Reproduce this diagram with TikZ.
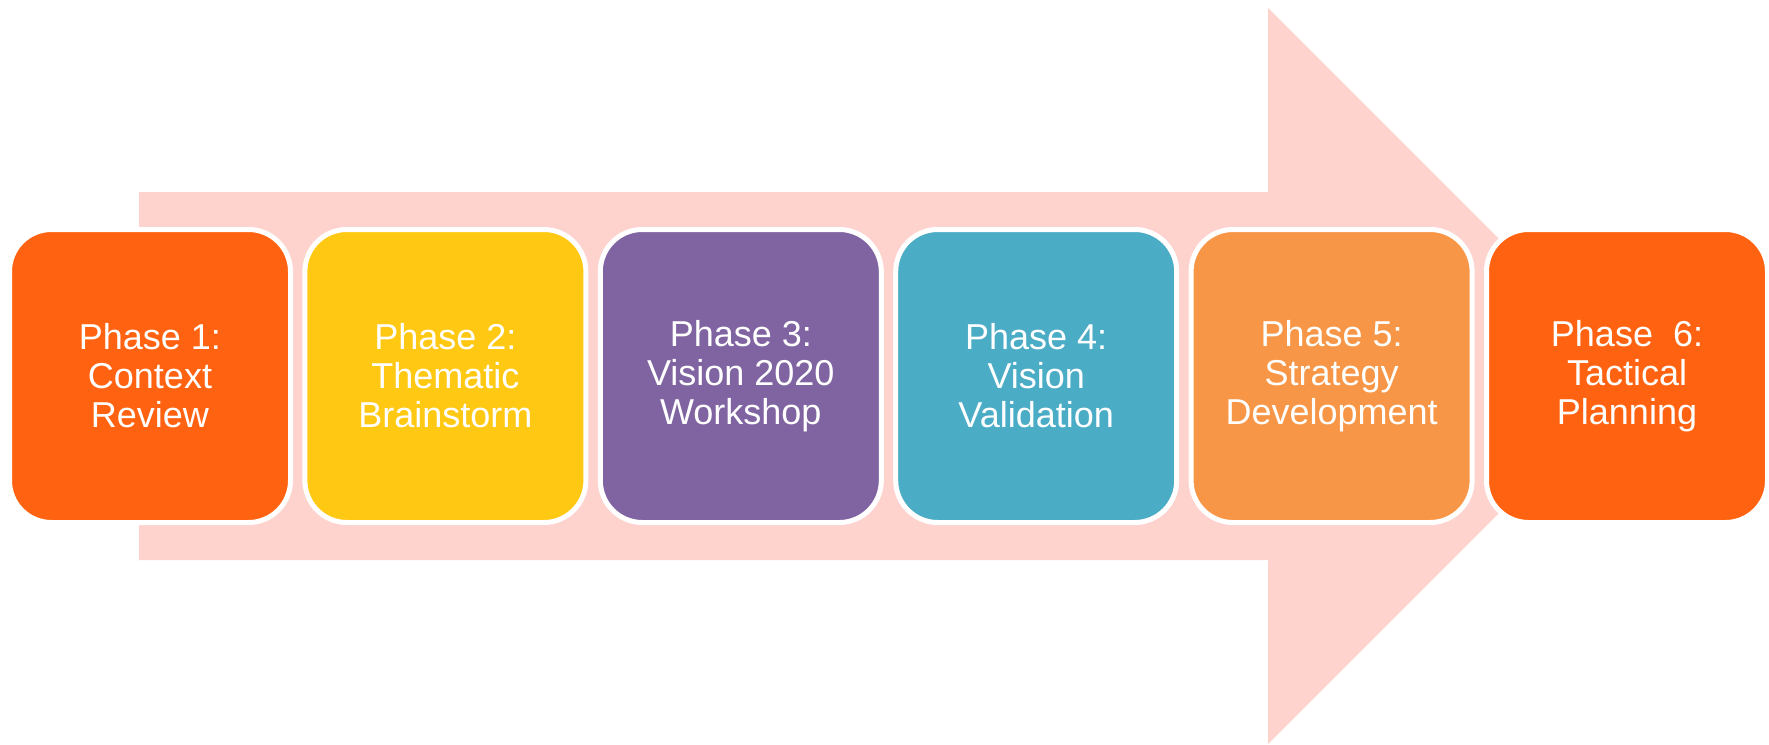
\documentclass[tikz,border=0pt]{standalone}
\usepackage{fontspec}
\setmainfont{Liberation Sans}
\usetikzlibrary{positioning}

\definecolor{arrowpink}{RGB}{255,211,205}
\definecolor{phaseorange}{RGB}{255,99,17}
\definecolor{phaseyellow}{RGB}{255,200,18}
\definecolor{phasepurple}{RGB}{128,100,162}
\definecolor{phaseaqua}{RGB}{75,172,198}
\definecolor{phaselight}{RGB}{247,150,70}

\tikzset{phase/.style = {draw = white, line width = 5pt, fill = #1,
                         rounded corners = 42pt,
                         minimum width = 281pt, minimum height = 293pt,
                         text = white, align = center,
                         font = \fontsize{36}{39}\selectfont
                        },
         phase/.default=phaseorange
        }

\begin{document}
\begin{tikzpicture}[x=1pt, y=-1pt, node distance=9.4pt]
  \useasboundingbox (0,0) rectangle (1769,744);
  % big arrow behind the phases
  \fill[arrowpink] (139,192) -- (1268,192) -- (1268,8) -- (1636,376)
                   -- (1268,744) -- (1268,560) -- (139,560) -- cycle;
  \node[phase=phaseorange] (ph1) at (150,376) {Phase 1:\\Context\\Review};
  \node[phase=phaseyellow, right=of ph1] (ph2) {Phase 2:\\Thematic\\Brainstorm};
  \node[phase=phasepurple, right=of ph2] (ph3) {Phase 3:\\Vision 2020\\Workshop};
  \node[phase=phaseaqua,   right=of ph3] (ph4) {Phase 4:\\Vision\\Validation};
  \node[phase=phaselight,  right=of ph4] (ph5) {Phase 5:\\Strategy\\Development};
  \node[phase=phaseorange, right=of ph5] (ph6) {Phase\ \ 6:\\Tactical\\Planning};
\end{tikzpicture}
\end{document}
